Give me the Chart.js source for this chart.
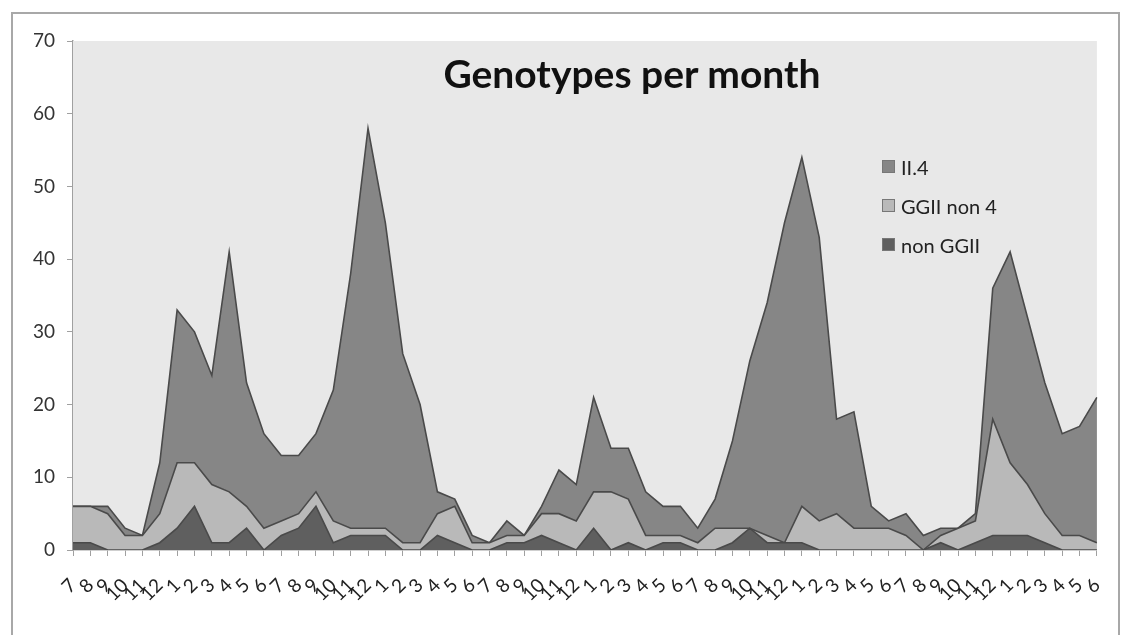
<!DOCTYPE html>
<html><head><meta charset="utf-8">
<script src="https://cdn.jsdelivr.net/npm/chart.js@4.4.1/dist/chart.umd.min.js"></script>
<style>
html,body{margin:0;padding:0;background:#fff;}
#wrap{position:relative;width:1131px;height:635px;overflow:hidden;font-family:Lato,"Open Sans",sans-serif;}
#frame{position:absolute;left:11px;top:12px;width:1109px;height:660px;border:2px solid #a8a8a8;box-sizing:border-box;}
#c{position:absolute;left:0;top:0;}
#title{position:absolute;left:332px;width:600px;top:50px;text-align:center;font-weight:bold;font-size:39px;color:#111;}
#legend{position:absolute;left:882px;top:147px;font-size:20px;color:#222;}
.row{height:39px;display:flex;align-items:center;}
.box{width:13px;height:13px;border:1px solid #777;margin-right:6px;box-sizing:border-box;}
</style></head>
<body><div id="wrap">
<div id="frame"></div>
<canvas id="c" width="1131" height="635"></canvas>
<div id="title">Genotypes per month</div>
<div id="legend">
 <div class="row"><div class="box" style="background:#868686"></div>II.4</div>
 <div class="row"><div class="box" style="background:#b9b9b9"></div>GGII non 4</div>
 <div class="row"><div class="box" style="background:#5f5f5f"></div>non GGII</div>
</div>
</div>
<script>
const months = [7,8,9,10,11,12,1,2,3,4,5,6, 7,8,9,10,11,12,1,2,3,4,5,6, 7,8,9,10,11,12,1,2,3,4,5,6, 7,8,9,10,11,12,1,2,3,4,5,6, 7,8,9,10,11,12,1,2,3,4,5,6].map(String);
const nonGGII = [1,1,0,0,0,1,3,6,1,1,3,0, 2,3,6,1,2,2,2,0,0,2,1,0, 0,1,1,2,1,0,3,0,1,0,1,1, 0,0,1,3,1,1,1,0,0,0,0,0, 0,0,1,0,1,2,2,2,1,0,0,0];
const ggiiNon4 = [5,5,5,2,2,4,9,6,8,7,3,3, 2,2,2,3,1,1,1,1,1,3,5,1, 1,1,1,3,4,4,5,8,6,2,1,1, 1,3,2,0,1,0,5,4,5,3,3,3, 2,0,1,3,3,16,10,7,4,2,2,1];
const ii4 = [0,0,1,1,0,7,21,18,15,33,17,13, 9,8,8,18,35,55,42,26,19,3,1,1, 0,2,0,1,6,5,13,6,7,6,4,4, 2,4,12,23,32,44,48,39,13,16,3,1, 3,2,1,0,1,18,29,23,18,14,15,20];
const yTicks = [0,10,20,30,40,50,60,70];

const bgPlugin = {
  id:'plotbg',
  beforeDatasetsDraw(chart){
    const {ctx, chartArea:a} = chart;
    ctx.save(); ctx.fillStyle = '#e8e8e8';
    ctx.fillRect(a.left, a.top, a.right-a.left, a.bottom-a.top);
    ctx.restore();
  }
};
const ds = (label, data, color, fill) => ({label, data, backgroundColor:color, borderColor:'#4a4a4a', borderWidth:1.6, fill, tension:0, pointRadius:0, pointHoverRadius:0});
new Chart(document.getElementById('c'), {
  type:'line',
  data:{labels:months, datasets:[
    ds('non GGII', nonGGII, '#5f5f5f', 'origin'),
    ds('GGII non 4', ggiiNon4, '#b9b9b9', '-1'),
    ds('II.4', ii4, '#868686', '-1')
  ]},
  options:{
    responsive:false, animation:false, events:[],
    layout:{padding:{left:0, top:41, right:28, bottom:0}},
    plugins:{legend:{display:false}, title:{display:false}, tooltip:{enabled:false}},
    scales:{
      x:{
        offset:false,
        grid:{display:true, drawOnChartArea:false, offset:false, tickLength:6, color:'#a0a0a0'},
        border:{display:true, color:'#a0a0a0', width:1.5},
        ticks:{autoSkip:false, minRotation:45, maxRotation:45, padding:18, color:'#222', font:{family:'Lato', size:19}},
        afterFit(s){ s.height = 85; }
      },
      y:{
        stacked:true, min:0, max:70,
        afterBuildTicks(s){ s.ticks = yTicks.map(v=>({value:v})); },
        grid:{display:true, drawOnChartArea:false, tickLength:6, color:'#a0a0a0'},
        border:{display:true, color:'#a0a0a0', width:1.5},
        ticks:{padding:12, color:'#333', font:{family:'Lato', size:19}},
        afterFit(s){ s.width = 73; }
      }
    }
  },
  plugins:[bgPlugin]
});
</script>
</body></html>
